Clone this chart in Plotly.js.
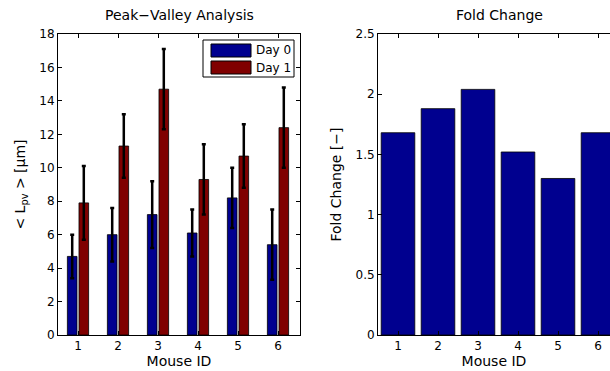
<!DOCTYPE html>
<html>
<head>
<meta charset="utf-8">
<script src="https://cdn.plot.ly/plotly-3.0.1.min.js"></script>
<style>html,body{margin:0;padding:0;background:#fff;}#chart{width:610px;height:371px;}</style>
</head>
<body>
<div id="chart"></div>
<script>
// Data
const mouseIds = [1, 2, 3, 4, 5, 6];
const seriesNames = ['Day 0', 'Day 1'];
const day0Mean = [4.7, 6.0, 7.2, 6.1, 8.2, 5.4];
const day0Err  = [1.3, 1.6, 2.0, 1.4, 1.8, 2.1];
const day1Mean = [7.9, 11.3, 14.7, 9.3, 10.7, 12.4];
const day1Err  = [2.2, 1.9, 2.4, 2.1, 1.9, 2.4];
const foldChange = [1.68, 1.88, 2.04, 1.52, 1.30, 1.68];
const leftTicks = [0, 2, 4, 6, 8, 10, 12, 14, 16, 18];
const rightTicks = [0, 0.5, 1, 1.5, 2, 2.5];

const FONT = 'DejaVu Sans, Arial, sans-serif';
const BLUE = '#00008f';
const RED = '#800000';
const seriesColors = [BLUE, RED];
const W = 610, H = 371;
const px = v => v / W;
const py = v => 1 - v / H;

const errStyle = {type: 'data', color: '#000', thickness: 2.5, width: 2};

const traces = [
  {type: 'bar', name: seriesNames[0], x: mouseIds, y: day0Mean, xaxis: 'x', yaxis: 'y',
   marker: {color: BLUE, line: {color: '#000', width: 0.8}},
   error_y: Object.assign({array: day0Err}, errStyle)},
  {type: 'bar', name: seriesNames[1], x: mouseIds, y: day1Mean, xaxis: 'x', yaxis: 'y',
   marker: {color: RED, line: {color: '#000', width: 0.8}},
   error_y: Object.assign({array: day1Err}, errStyle)},
  {type: 'bar', name: 'Fold', x: mouseIds, y: foldChange, xaxis: 'x2', yaxis: 'y2',
   width: 0.84, offsetgroup: 'fold',
   marker: {color: BLUE, line: {color: '#000', width: 0.8}}}
];

const axisCommon = {
  showgrid: false, zeroline: false, showline: true, linecolor: '#000', linewidth: 1,
  ticks: 'inside', ticklen: 4, tickwidth: 1, tickcolor: '#000',
  tickfont: {family: FONT, size: 12, color: '#000'}, fixedrange: true
};

// Legend (drawn as a boxed key in paper space)
const legendShapes = [
  {type: 'rect', xref: 'paper', yref: 'paper', x0: px(203), x1: px(294), y0: py(77), y1: py(40),
   fillcolor: '#fff', line: {color: '#000', width: 1}, layer: 'above'}
];
const legendAnn = [];
seriesNames.forEach((nm, i) => {
  const top = 44 + i * 17;
  legendShapes.push({type: 'rect', xref: 'paper', yref: 'paper', x0: px(211), x1: px(251),
    y0: py(top + 13), y1: py(top), fillcolor: seriesColors[i], line: {color: '#000', width: 1}, layer: 'above'});
  legendAnn.push({text: nm, xref: 'paper', yref: 'paper', x: px(254), y: py(top + 6.5),
    xanchor: 'left', yanchor: 'middle', showarrow: false, font: {family: FONT, size: 12, color: '#000'}});
});

const layout = {
  width: W, height: H,
  margin: {l: 0, r: 0, t: 0, b: 0},
  paper_bgcolor: '#fff', plot_bgcolor: '#fff',
  barmode: 'group', bargap: 0.42, bargroupgap: 0.17,
  font: {family: FONT, size: 12, color: '#000'},
  showlegend: false,
  xaxis: Object.assign({}, axisCommon, {domain: [px(58), px(300)], range: [0.5, 6.55],
    tickvals: mouseIds, mirror: 'ticks',
    title: {text: 'Mouse ID', font: {family: FONT, size: 14, color: '#000'}, standoff: 2}}),
  yaxis: Object.assign({}, axisCommon, {domain: [py(335), py(34)], range: [0, 18],
    tickvals: leftTicks, mirror: 'ticks',
    title: {text: '&lt; L<sub>pv</sub> &gt; [μm]', font: {family: FONT, size: 14, color: '#000'}, standoff: 10}}),
  xaxis2: Object.assign({}, axisCommon, {domain: [px(378), 1], range: [0.5, 6.3],
    anchor: 'y2', tickvals: mouseIds, mirror: 'ticks',
    title: {text: 'Mouse ID', font: {family: FONT, size: 14, color: '#000'}, standoff: 2}}),
  yaxis2: Object.assign({}, axisCommon, {domain: [py(335), py(34)], range: [0, 2.5],
    anchor: 'x2', tickvals: rightTicks, mirror: false,
    title: {text: 'Fold Change [−]', font: {family: FONT, size: 14, color: '#000'}, standoff: 10}}),
  shapes: legendShapes,
  annotations: [
    {text: 'Peak−Valley Analysis', xref: 'paper', yref: 'paper', x: px(179), y: py(15),
     xanchor: 'center', yanchor: 'middle', showarrow: false, font: {family: FONT, size: 14, color: '#000'}},
    {text: 'Fold Change', xref: 'paper', yref: 'paper', x: px(499), y: py(15),
     xanchor: 'center', yanchor: 'middle', showarrow: false, font: {family: FONT, size: 14, color: '#000'}}
  ].concat(legendAnn)
};

Plotly.newPlot('chart', traces, layout, {staticPlot: true, displayModeBar: false});
</script>
</body>
</html>
